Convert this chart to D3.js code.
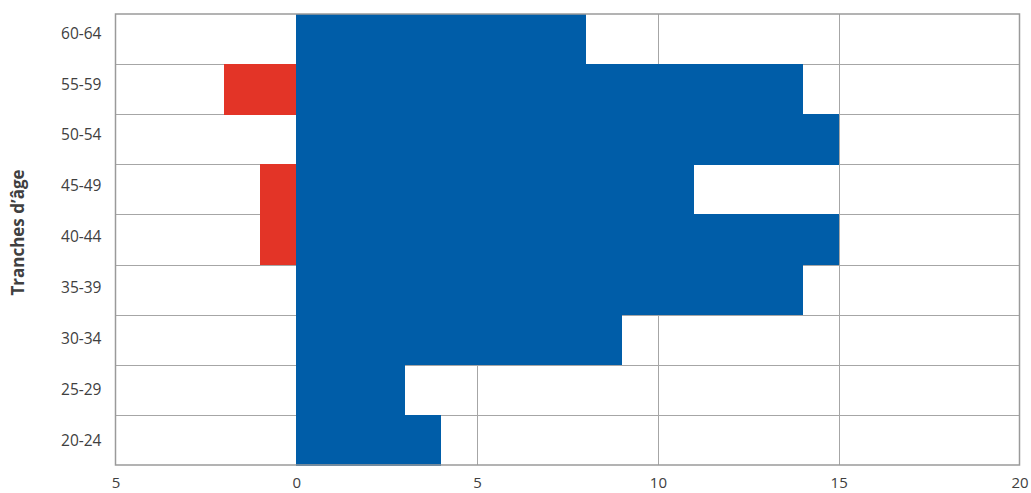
<!DOCTYPE html>
<html><head><meta charset="utf-8">
<script src="https://cdn.jsdelivr.net/npm/d3@7"></script>
<style>body{margin:0;background:#fff}svg{display:block}text{font-family:"Open Sans",sans-serif}</style>
</head><body><svg id="c" width="1031" height="493"></svg>
<script>
const categories = ["20-24","25-29","30-34","35-39","40-44","45-49","50-54","55-59","60-64"];
const blueValues = [4,3,9,14,15,11,15,14,8];
const redValues  = [0,0,0,0,-1,-1,0,-2,0];
const xTicks = [-5,0,5,10,15,20];
const yTitle = "Tranches d’âge";

const svg = d3.select("#c");
const m = {l:115.5, r:1019.5, t:14, b:465};
const x = d3.scaleLinear().domain([-5,20]).range([m.l, m.r]);
const y = d3.scaleBand().domain(categories.slice().reverse()).range([m.t, m.b]).padding(0);
// label positions (reference labels drift slightly upward towards the top)
const yl = d3.scalePoint().domain(categories).range([y("20-24") + y.bandwidth()/2 + 1, y("60-64") + y.bandwidth()/2 - 6]);
const grid = "#a6a6a6";

// horizontal grid (band boundaries)
svg.append("g").selectAll("line").data(categories.slice(0,-1)).join("line")
  .attr("x1", m.l).attr("x2", m.r)
  .attr("y1", d => Math.round(y(d))+0.5).attr("y2", d => Math.round(y(d))+0.5)
  .attr("stroke", grid).attr("stroke-width", 1);
// vertical grid
svg.append("g").selectAll("line").data(xTicks.slice(1,-1)).join("line")
  .attr("x1", d => Math.round(x(d))+0.5).attr("x2", d => Math.round(x(d))+0.5)
  .attr("y1", m.t).attr("y2", m.b)
  .attr("stroke", grid).attr("stroke-width", 1);

// bars
svg.append("g").attr("shape-rendering","crispEdges").selectAll("rect").data(categories.map((c,i)=>({c, v:blueValues[i]}))).join("rect")
  .attr("x", d => x(0)).attr("width", d => x(d.v) - x(0))
  .attr("y", d => y(d.c)).attr("height", y.bandwidth()+0.5)
  .attr("fill", "#005da8");
svg.append("g").attr("shape-rendering","crispEdges").selectAll("rect").data(categories.map((c,i)=>({c, v:redValues[i]})).filter(d=>d.v<0)).join("rect")
  .attr("x", d => x(d.v)).attr("width", d => x(0) - x(d.v))
  .attr("y", d => y(d.c)).attr("height", y.bandwidth()+0.5)
  .attr("fill", "#e33427");

// frame
svg.append("rect").attr("x", m.l).attr("y", m.t).attr("width", m.r-m.l).attr("height", m.b-m.t)
  .attr("fill","none").attr("stroke", "#9a9a9a").attr("stroke-width", 1.5);

// x axis
const xa = svg.append("g").attr("transform", `translate(0,${m.b})`)
  .call(d3.axisBottom(x).tickValues(xTicks).tickFormat(d => Math.abs(d)).tickSize(0).tickPadding(12));
xa.select(".domain").remove();
xa.selectAll("text").attr("font-size", 15).attr("fill", "#404040").style("font-family", '"Open Sans",sans-serif');

// y axis
const ya = svg.append("g").attr("transform", `translate(${m.l},0)`)
  .call(d3.axisLeft(yl).tickSize(0).tickPadding(14));
ya.select(".domain").remove();
ya.selectAll("text").attr("font-size", 15.5).attr("fill", "#404040").style("font-family", '"Open Sans",sans-serif');

svg.append("text").attr("transform", `translate(24,${(m.t+m.b)/2 - 7}) rotate(-90)`)
  .attr("text-anchor","middle").attr("font-size", 17).attr("font-weight","bold").attr("fill","#404040")
  .text(yTitle);
</script></body></html>
